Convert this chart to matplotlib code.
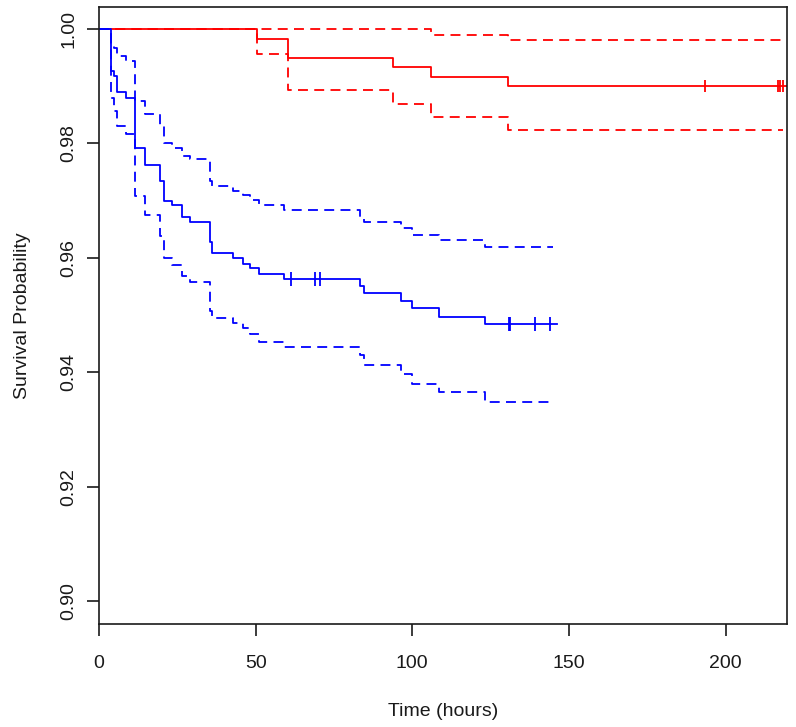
#!/usr/bin/env python3
"""Kaplan-Meier survival curves with confidence bands, two groups."""

import numpy as np
import matplotlib
matplotlib.use("Agg")
import matplotlib.pyplot as plt

# red group: event times, survival and 95% CI
red_t = [0, 50.5, 60.2, 93.9, 105.9, 130.4]
red_s = [1.0, 0.9982, 0.99488, 0.9934, 0.99166, 0.98998]
red_upper = [1.0, 1.0, 1.0, 1.0, 0.9989, 0.9980]
red_lower = [1.0, 0.99557, 0.98928, 0.98694, 0.98467, 0.98229]
red_end = 219.5
red_ci_end = 218.3
red_censor = [193.4, 216.8, 217.5, 218.4]

# blue group
blue_t = [0, 3.83, 4.89, 5.64, 8.5, 11.49, 14.69, 19.45, 20.74, 23.22, 26.6,
          28.98, 35.53, 36.13, 42.78, 45.95, 48.33, 51.01, 58.95, 83.27,
          84.56, 96.27, 99.75, 108.58, 123.27]
blue_s = [1.0, 0.99266, 0.99178, 0.98904, 0.98799, 0.97914, 0.97617, 0.97343,
          0.96993, 0.96918, 0.96713, 0.96626, 0.96282, 0.96089, 0.96002,
          0.95897, 0.95827, 0.95722, 0.95624, 0.95507, 0.9539, 0.95245,
          0.95117, 0.94965, 0.94848]
blue_upper = [1.0, 0.9976, 0.99673, 0.99528, 0.99441, 0.98741, 0.9852,
              0.98304, 0.98012, 0.97925, 0.9778, 0.97722, 0.9735, 0.97255,
              0.97168, 0.97092, 0.97005, 0.96918, 0.96836, 0.967, 0.96631,
              0.96528, 0.96399, 0.96306, 0.96189]
blue_lower = [1.0, 0.98799, 0.98566, 0.98304, 0.9817, 0.9708, 0.96743,
              0.96381, 0.9599, 0.95874, 0.95682, 0.95577, 0.9507, 0.94953,
              0.94865, 0.94778, 0.94673, 0.94528, 0.94441, 0.943, 0.9412,
              0.93963, 0.93799, 0.93654, 0.93479]
blue_end = 146.3
blue_ci_end = 145.0
blue_censor_a = [61.2, 69.0, 70.5]
blue_censor_b = [131.0, 131.3, 139.1, 143.9]

x_ticks = [0, 50, 100, 150, 200]
y_ticks = [0.90, 0.92, 0.94, 0.96, 0.98, 1.00]

plt.rcParams['font.family'] = ['Liberation Sans', 'DejaVu Sans']


def km_step(ax, t, s, end, color, dashed=False):
    tt = np.append(t, end)
    ss = np.append(s, s[-1])
    line, = ax.step(tt, ss, where='post', color=color, lw=1.3)
    if dashed:
        line.set_dashes([5.5, 3.5])
    return line


fig = plt.figure(figsize=(7.96, 7.27), dpi=100)
ax = fig.add_axes([99 / 796, 1 - 624 / 727, (786.7 - 99) / 796, (624 - 7) / 727])

# red drawn first so the blue start sits on top
km_step(ax, red_t, red_s, red_end, 'red')
km_step(ax, red_t, red_upper, red_ci_end, 'red', dashed=True)
km_step(ax, red_t, red_lower, red_ci_end, 'red', dashed=True)
ax.plot(red_censor, [red_s[-1]] * len(red_censor), ls='none', marker='|',
        color='red', ms=9, mew=1.3)

km_step(ax, blue_t, blue_s, blue_end, 'blue')
km_step(ax, blue_t, blue_upper, blue_ci_end, 'blue', dashed=True)
km_step(ax, blue_t, blue_lower, blue_ci_end, 'blue', dashed=True)
ax.plot(blue_censor_a, [blue_s[18]] * len(blue_censor_a), ls='none', marker='|',
        color='blue', ms=10, mew=1.3)
ax.plot(blue_censor_b, [blue_s[-1]] * len(blue_censor_b), ls='none', marker='|',
        color='blue', ms=10, mew=1.3)

ax.set_xlim(0, 219.5)
ax.set_ylim(0.8960, 1.00385)
ax.set_xticks(x_ticks)
ax.set_xticklabels([str(v) for v in x_ticks])
ax.set_yticks(y_ticks)
ax.set_yticklabels([f"{v:.2f}" for v in y_ticks], rotation=90, va='center')

for sp in ax.spines.values():
    sp.set_linewidth(1.2)
    sp.set_color('#1a1a1a')
ax.tick_params(direction='out', length=8.5, width=1.2, color='#1a1a1a',
               labelsize=14, labelcolor='#1a1a1a')
ax.tick_params(axis='x', pad=14)
ax.tick_params(axis='y', pad=7)

ax.set_xlabel("Time (hours)", fontsize=14, color='#1a1a1a', labelpad=22)
ax.set_ylabel("Survival Probability", fontsize=14, color='#1a1a1a', labelpad=21)

fig.savefig("out.png", dpi=100)
